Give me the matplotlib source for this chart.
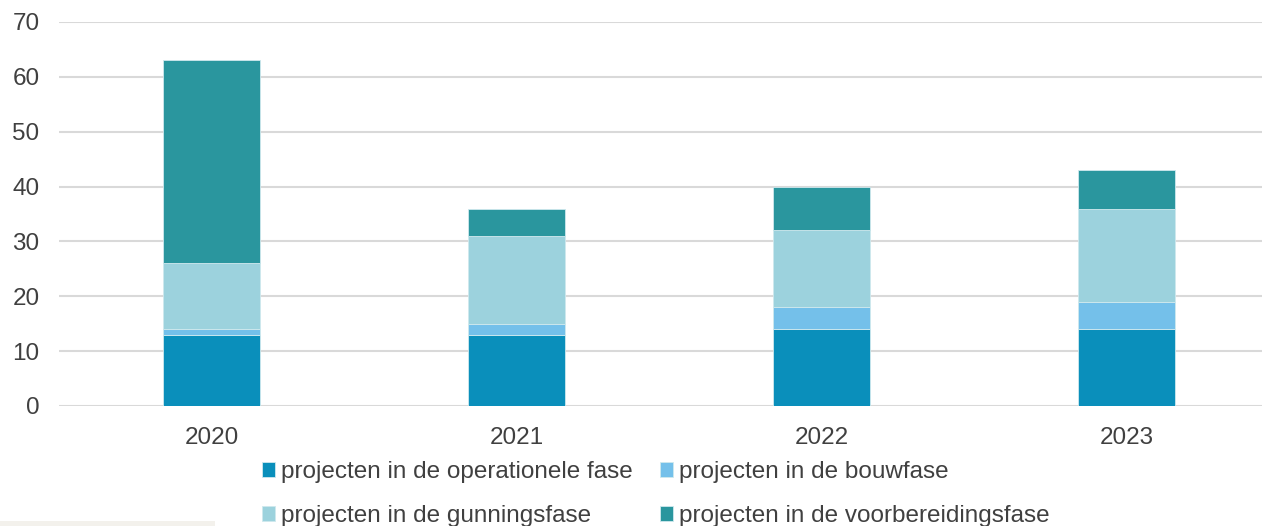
import matplotlib
matplotlib.use("Agg")
import matplotlib.pyplot as plt
from matplotlib.patches import Rectangle
import numpy as np

years = ["2020", "2021", "2022", "2023"]
operationele = [13, 13, 14, 14]
bouw = [1, 2, 4, 5]
gunning = [12, 16, 14, 17]
voorbereiding = [37, 5, 8, 7]
series_labels = ["projecten in de operationele fase", "projecten in de bouwfase",
                 "projecten in de gunningsfase", "projecten in de voorbereidingsfase"]
colors = ["#0a8fbb", "#74c0ea", "#9cd2dd", "#2a969e"]

plt.rcParams['font.family'] = ['Liberation Sans', 'DejaVu Sans']
fig = plt.figure(figsize=(12.62, 5.26), dpi=100)
W, H = 1262, 526
ax = fig.add_axes([59 / W, (H - 406) / H, (1279 - 59) / W, (406 - 22) / H])

x = np.arange(len(years))
bottom = np.zeros(len(years))
handles = []
for vals, c, lab in zip([operationele, bouw, gunning, voorbereiding], colors, series_labels):
    b = ax.bar(x, vals, width=0.315, bottom=bottom, color=c, label=lab,
               edgecolor="#cfe9ee", linewidth=0.6, zorder=3)
    handles.append(b)
    bottom += np.array(vals)

ax.set_xlim(-0.5, 3.5)
ax.set_ylim(0, 70)
ax.set_yticks(range(0, 71, 10))
ax.set_xticks(x)
ax.set_xticklabels(years)
ax.grid(axis='y', color="#d9d9d9", linewidth=1.5, zorder=0)
for s in ax.spines.values():
    s.set_visible(False)
ax.tick_params(axis='both', length=0, labelsize=17.5, colors="#404040")
ax.tick_params(axis='y', pad=14)
ax.tick_params(axis='x', pad=15)

# matplotlib fills legend columns first; reorder so rows read as in the reference
order = [0, 2, 1, 3]
fig.legend(handles=[handles[i] for i in order], labels=[series_labels[i] for i in order],
           ncol=2, loc='upper left',
           bbox_to_anchor=(262 / W, 1 - 461 / H), frameon=False,
           fontsize=17.5, handlelength=0.55, handleheight=0.55, handletextpad=0.25,
           columnspacing=1.1, labelspacing=0.9, labelcolor="#404040",
           borderpad=0, borderaxespad=0)

fig.patches.append(Rectangle((0, 0), 215 / W, 5 / H, transform=fig.transFigure,
                             facecolor="#f3f1ec", edgecolor="none"))
fig.savefig("out.png", dpi=100)
